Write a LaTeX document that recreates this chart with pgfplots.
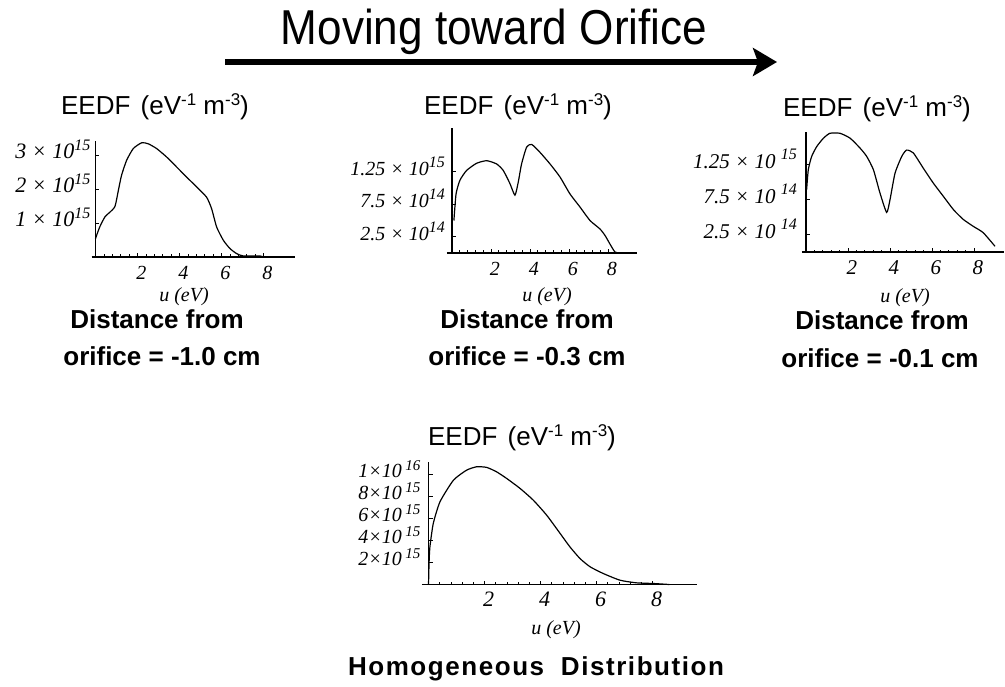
\documentclass[border=0pt]{standalone}
\usepackage{fontspec}
\setmainfont{Liberation Serif}
\setsansfont{Liberation Sans}
\usepackage{pgfplots}
\pgfplotsset{compat=1.18}
\usetikzlibrary{arrows.meta}

% raised exponent: raise, size, text
\newcommand{\ex}[3]{\raisebox{#1}{\fontsize{#2}{#2}\selectfont #3}}
\newcommand{\eedf}{{\sffamily\fontsize{26}{26}\selectfont EEDF\hspace{3pt} (eV\ex{9pt}{17}{-1} m\ex{9pt}{17}{-3})}}
\newcommand{\sub}{\sffamily\bfseries\fontsize{26}{26}\selectfont}
\newcommand{\ulab}{\itshape\fontsize{20}{20}\selectfont u (eV)}

\pgfplotsset{
  eedf/.style={
    scale only axis, anchor=south west, clip=false,
    axis lines=middle, axis line style={line width=1.6pt, -},
    ymin=0,
    tick align=inside, major tick length=4pt, minor tick length=2.5pt,
    tick style={line width=0.7pt, black},
    xtick={0,2,4,6,8}, xticklabels={,2,4,6,8}, minor x tick num=4,
    xticklabel style={anchor=center, yshift=-19pt, xshift=4pt, text height=0.68em, text depth=0pt, inner sep=0pt},
    yticklabel style={anchor=east, text height=0.68em, text depth=0pt, inner sep=0pt},
  },
  crv/.style={black, line width=1.2pt, no marks, smooth, tension=0.35},
}

\begin{document}
\begin{tikzpicture}[x=1pt, y=1pt]
\useasboundingbox (0,0) rectangle (1005,-687);

% title and arrow
\node[anchor=base] at (494,-45) {\scalebox{0.9}[1]{\sffamily\fontsize{49}{49}\selectfont Moving toward Orifice}};
\draw[line width=6pt, -{Stealth[length=24pt, width=28pt, inset=5pt]}] (225,-62) -- (777,-62);

% panel 1: -1.0 cm
\begin{axis}[eedf, at={(91.7pt,-257pt)}, width=203.3pt, height=115.6pt,
  xmin=-0.18, xmax=9.5, ymax=3.4,
  xticklabel style={font=\fontsize{20}{20}\selectfont\itshape},
  ytick={1,2,3},
  yticklabels={{1 × 10\ex{8pt}{16}{15}},{2 × 10\ex{8pt}{16}{15}},{3 × 10\ex{8pt}{16}{15}}},
  yticklabel style={font=\fontsize{22}{22}\selectfont\itshape, xshift=-5pt}]
\addplot[crv] coordinates {
(0.0,0.54) (0.2,0.88) (0.45,1.18) (0.69,1.32) (0.93,1.49) (1.09,1.96)
(1.24,2.40) (1.48,2.84) (1.80,3.19) (2.20,3.36) (2.51,3.33) (2.91,3.19)
(3.39,2.94) (3.86,2.65) (4.34,2.35) (4.82,2.06) (5.29,1.76) (5.53,1.42)
(5.77,0.88) (6.09,0.49) (6.40,0.25) (6.72,0.10) (7.04,0.03) (7.83,0.03) (8.0,0.0)};
\end{axis}

% panel 2: -0.3 cm
\begin{axis}[eedf, at={(446.9pt,-253pt)}, width=189.7pt, height=124.8pt,
  xmin=-0.26, xmax=9.47, ymax=19.2,
  xticklabel style={font=\fontsize{20}{20}\selectfont\itshape},
  ytick={2.5,7.5,12.5},
  yticklabels={{2.5 × 10\ex{8pt}{16}{14}},{7.5 × 10\ex{8pt}{16}{14}},{1.25 × 10\ex{8pt}{16}{15}}},
  yticklabel style={font=\fontsize{20}{20}\selectfont\itshape, xshift=-7pt}]
\addplot[crv] coordinates {
(0.10,5.0) (0.21,9.1) (0.41,11.2) (0.75,12.7) (1.26,13.8) (1.78,14.2)
(2.29,13.7) (2.63,12.7) (2.97,10.7) (3.23,8.9) (3.40,10.9) (3.57,13.7)
(3.83,16.3) (4.09,16.7) (4.51,15.5) (5.03,13.7) (5.54,11.7) (6.05,9.1)
(6.56,7.1) (7.08,5.0) (7.59,3.7) (7.85,2.7) (8.10,1.4) (8.36,0.15) (8.6,0.0)};
\end{axis}

% panel 3: -0.1 cm
\begin{axis}[eedf, at={(801.8pt,-252.3pt)}, width=202.2pt, height=120.4pt,
  xmin=-0.2, xmax=9.43, ymax=17.2,
  xticklabel style={font=\fontsize{21}{21}\selectfont\itshape},
  ytick={2.5,7.5,12.5},
  yticklabels={{2.5 × 10 \ex{9pt}{16}{14}},{7.5 × 10 \ex{9pt}{16}{14}},{1.25 × 10 \ex{9pt}{16}{15}}},
  yticklabel style={font=\fontsize{21}{21}\selectfont\itshape, xshift=-9pt}]
\addplot[crv] coordinates {
(0.03,8.95) (0.11,11.8) (0.27,13.7) (0.51,15.1) (0.83,16.3) (1.14,17.0)
(1.62,17.0) (2.10,16.3) (2.57,14.9) (2.89,13.7) (3.21,11.8) (3.52,8.5)
(3.84,5.7) (4.00,7.5) (4.24,11.3) (4.56,13.7) (4.79,14.6) (5.11,14.2)
(5.59,12.0) (6.06,9.9) (6.54,8.0) (7.02,6.1) (7.49,4.7) (7.97,3.7)
(8.44,2.8) (9.0,0.86)};
\end{axis}

% panel 4: homogeneous
\begin{axis}[eedf, at={(421.8pt,-584.5pt)}, width=275.5pt, height=122.8pt,
  xmin=-0.24, xmax=9.6, ymax=11.16,
  xticklabel style={font=\fontsize{22}{22}\selectfont\itshape},
  ytick={2,4,6,8,10},
  yticklabels={{2×10\,\ex{7pt}{15}{15}},{4×10\,\ex{7pt}{15}{15}},{6×10\,\ex{7pt}{15}{15}},{8×10\,\ex{7pt}{15}{15}},{1×10\,\ex{7pt}{15}{16}}},
  yticklabel style={font=\fontsize{20}{20}\selectfont\itshape, xshift=-8pt}]
\addplot[crv] coordinates {
(0.0,0.0) (0.02,2.0) (0.05,3.42) (0.17,5.55) (0.41,7.52) (0.89,9.48)
(1.36,10.39) (1.72,10.70) (2.08,10.64) (2.43,10.24) (2.79,9.64) (3.27,8.73)
(3.74,7.67) (4.22,6.30) (4.70,4.64) (5.05,3.42) (5.41,2.36) (5.77,1.61)
(6.24,1.0) (6.84,0.39) (7.43,0.15) (8.03,0.09) (8.6,0.0)};
\end{axis}

% labels
\node[anchor=base] at (155,-115) {\eedf};
\node[anchor=base] at (518,-115) {\eedf};
\node[anchor=base] at (877,-117) {\eedf};
\node[anchor=base] at (522,-445) {\eedf};

\node[anchor=base] at (184,-302) {\ulab};
\node[anchor=base] at (547,-302) {\ulab};
\node[anchor=base] at (905,-303) {\ulab};
\node[anchor=base] at (556,-634) {\ulab};

\node[anchor=base] at (157,-329) {\sub Distance from};
\node[anchor=base] at (162,-366) {\sub orifice = -1.0 cm};
\node[anchor=base] at (527,-329) {\sub Distance from};
\node[anchor=base] at (527,-366) {\sub orifice = -0.3 cm};
\node[anchor=base] at (882,-330) {\sub Distance from};
\node[anchor=base] at (880,-367) {\sub orifice = -0.1 cm};
\node[anchor=base] at (536,-675) {\sub\addfontfeature{LetterSpace=6} Homogeneous\hspace{8pt} Distribution};
\end{tikzpicture}
\end{document}
